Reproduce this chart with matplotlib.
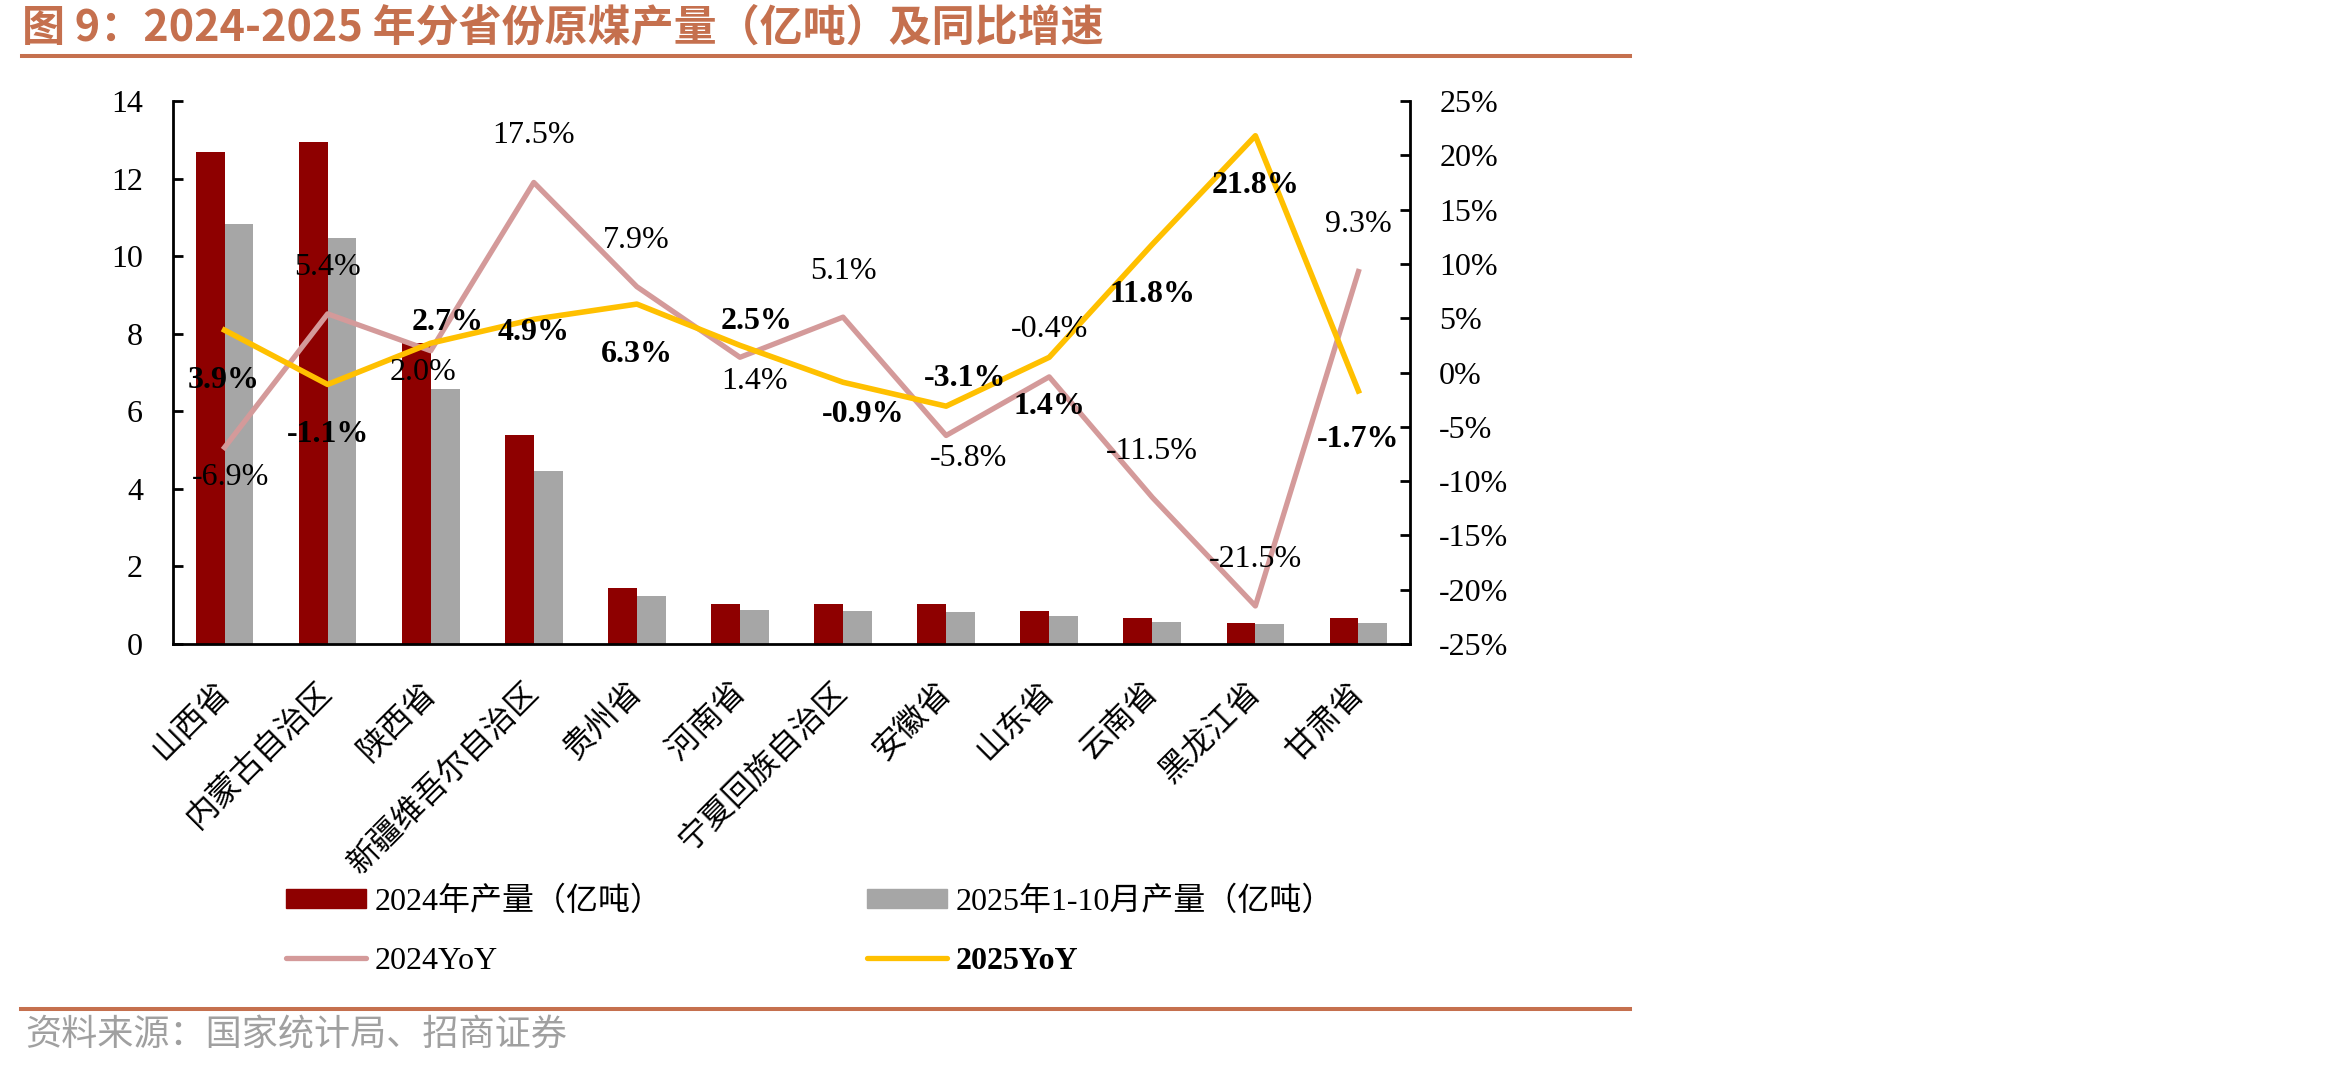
import numpy as np
import matplotlib
matplotlib.use('Agg')
import matplotlib.pyplot as plt
import matplotlib.transforms as mtransforms
from matplotlib.patches import Patch
from matplotlib.lines import Line2D
from matplotlib.ticker import FuncFormatter

plt.rcParams['axes.unicode_minus'] = False

# ---------------- data ----------------
provinces = ['山西省', '内蒙古自治区', '陕西省', '新疆维吾尔自治区', '贵州省', '河南省',
             '宁夏回族自治区', '安徽省', '山东省', '云南省', '黑龙江省', '甘肃省']
output_2024 = [12.68, 12.95, 7.77, 5.40, 1.44, 1.02, 1.03, 1.04, 0.86, 0.66, 0.53, 0.66]
output_2025 = [10.82, 10.47, 6.57, 4.45, 1.25, 0.88, 0.84, 0.83, 0.72, 0.58, 0.51, 0.54]
yoy_2024 = [-6.9, 5.4, 2.0, 17.5, 7.9, 1.4, 5.1, -5.8, -0.4, -11.5, -21.5, 9.3]
yoy_2025 = [3.9, -1.1, 2.7, 4.9, 6.3, 2.5, -0.9, -3.1, 1.4, 11.8, 21.8, -1.7]
left_ticks = [0, 2, 4, 6, 8, 10, 12, 14]
right_ticks = [-25, -20, -15, -10, -5, 0, 5, 10, 15, 20, 25]
series_names = ['2024年产量（亿吨）', '2025年1-10月产量（亿吨）', '2024YoY', '2025YoY']
title = '图 9：2024-2025 年分省份原煤产量（亿吨）及同比增速'
source = '资料来源：国家统计局、招商证券'

# label offsets (pixels) - style only
off_2024 = [(6, -30), (0, 46), (-8, -22), (0, 47), (-1, 46), (15, -24),
            (0, 46), (22, -23), (0, 47), (0, 46), (0, 46), (0, 47)]
off_2025 = [(-1, -50), (0, -50), (17, 21), (0, -13), (0, -50), (17, 24),
            (20, -32), (19, 28), (0, -49), (0, -50), (0, -50), (0, -49)]

# ---------------- style ----------------
RED = '#8E0000'
GRAY = '#A6A6A6'
PINK = '#D49A9A'
YELLOW = '#FFC000'
ACCENT = '#C5704E'
SERIF = ['Liberation Serif', 'Noto Sans CJK SC']
CJK = ['Noto Sans CJK SC', 'DejaVu Sans']

W, H = 2350, 1069
fig = plt.figure(figsize=(W / 100, H / 100), dpi=100)

L, R, T, B = 173, 1410, 101, 644
ax = fig.add_axes([L / W, 1 - B / H, (R - L) / W, (B - T) / H])

x = np.arange(len(provinces))
bw = 0.28
ax.bar(x - bw / 2, output_2024, width=bw, color=RED, zorder=2)
ax.bar(x + bw / 2, output_2025, width=bw, color=GRAY, zorder=2)
ax.set_xlim(-0.5, len(provinces) - 0.5)
ax.set_ylim(0, 14)
ax.set_yticks(left_ticks)
ax.set_yticklabels([str(t) for t in left_ticks], fontsize=23, family=SERIF)
ax.set_xticks(x)
ax.set_xticklabels(provinces, rotation=45, ha='right', va='center',
                   rotation_mode='anchor', fontsize=23, family=CJK)
shift = mtransforms.ScaledTranslation(7 / 100, 0, fig.dpi_scale_trans)
for lab in ax.get_xticklabels():
    lab.set_transform(lab.get_transform() + shift)
ax.tick_params(axis='x', length=0, pad=31)
ax.tick_params(axis='y', direction='in', length=7, width=2, pad=21.6)
for s in ['top', 'right']:
    ax.spines[s].set_visible(False)
for s in ['left', 'bottom']:
    ax.spines[s].set_linewidth(2)

ax2 = ax.twinx()
ax2.plot(x, yoy_2024, color=PINK, lw=3.8, zorder=3)
ax2.plot(x, yoy_2025, color=YELLOW, lw=4.0, zorder=4)
ax2.set_ylim(-25, 25)
ax2.set_yticks(right_ticks)
ax2.yaxis.set_major_formatter(FuncFormatter(lambda v, p: f'{v:.0f}%'))
for lab in ax2.get_yticklabels():
    lab.set_fontsize(23)
    lab.set_family(SERIF)
ax2.tick_params(axis='y', direction='in', length=7, width=2, pad=21)
for s in ['top', 'left', 'bottom']:
    ax2.spines[s].set_visible(False)
ax2.spines['right'].set_linewidth(2)

for i, v in enumerate(yoy_2024):
    ax2.annotate(f'{v:.1f}%', (x[i], v), xytext=off_2024[i], textcoords='offset pixels',
                 ha='center', va='center', fontsize=23, family=SERIF, zorder=5)
for i, v in enumerate(yoy_2025):
    ax2.annotate(f'{v:.1f}%', (x[i], v), xytext=off_2025[i], textcoords='offset pixels',
                 ha='center', va='center', fontsize=23, family=SERIF,
                 fontweight='bold', zorder=5)

# ---------------- legends ----------------
leg_kw = dict(frameon=False, handlelength=2.5, handleheight=0.53,
              handletextpad=0.28, labelspacing=0.94, borderpad=0, borderaxespad=0,
              loc='center left', prop={'family': SERIF, 'size': 23})
h1 = [Patch(color=RED), Line2D([], [], color=PINK, lw=3.8, solid_capstyle='round')]
h2 = [Patch(color=GRAY), Line2D([], [], color=YELLOW, lw=3.8, solid_capstyle='round')]
leg1 = fig.legend(h1, [series_names[0], series_names[2]],
                  bbox_to_anchor=(286 / W, 1 - 931 / H), **leg_kw)
leg2 = fig.legend(h2, [series_names[1], series_names[3]],
                  bbox_to_anchor=(867 / W, 1 - 931 / H), **leg_kw)
leg2.get_texts()[1].set_fontweight('bold')

# ---------------- title, rules, source ----------------
fig.text(22 / W, 1 - 27 / H, title, fontsize=31, fontweight='bold', color=ACCENT,
         family=CJK, ha='left', va='center')
fig.add_artist(Line2D([22 / W, 1630 / W], [1 - 56 / H] * 2, lw=2.9, color=ACCENT))
fig.add_artist(Line2D([21 / W, 1630 / W], [1 - 1009 / H] * 2, lw=2.9, color=ACCENT))
fig.text(25 / W, 1 - 1035 / H, source, fontsize=26, color='#A0A0A0',
         family=CJK, ha='left', va='center')

fig.savefig('out.png', dpi=100)
